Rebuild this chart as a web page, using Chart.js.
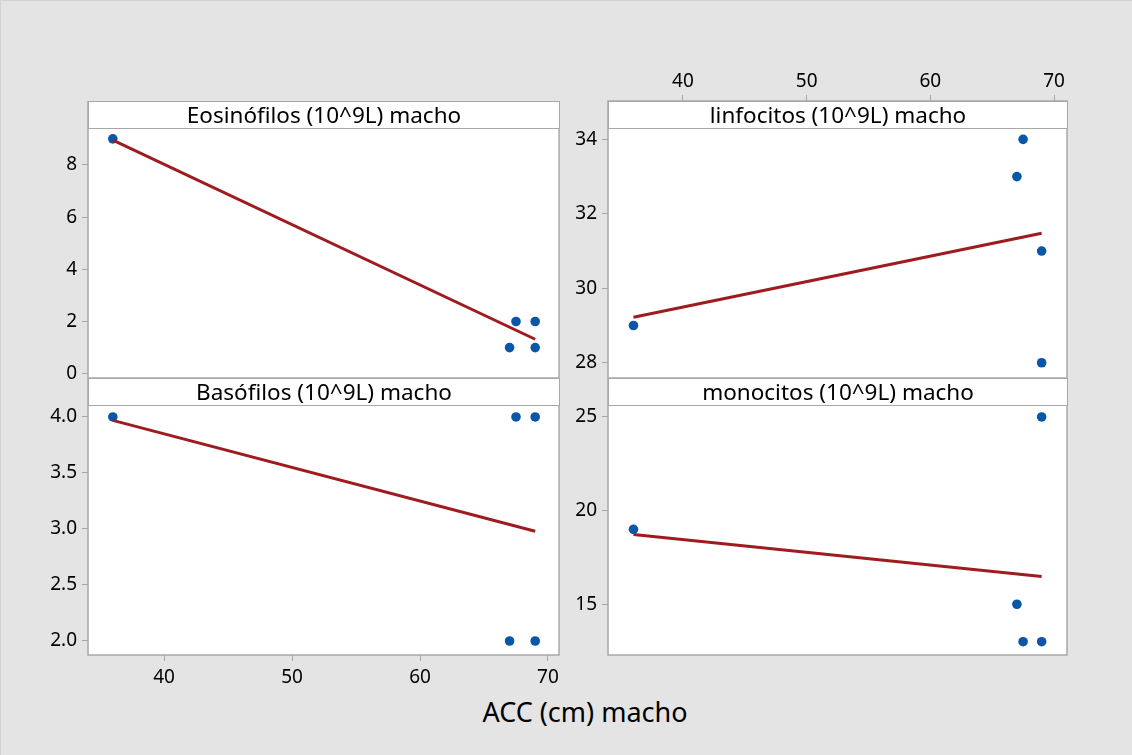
<!DOCTYPE html>
<html>
<head>
<meta charset="utf-8">
<script src="https://cdn.jsdelivr.net/npm/chart.js@4"></script>
<style>
  body { margin: 0; background: #e4e4e4; }
  #fig { position: relative; width: 1132px; height: 755px; background: #e4e4e4;
         border-top: 1px solid #d2d2d2; border-left: 1px solid #d2d2d2; box-sizing: border-box;
         font-family: "Noto Sans", sans-serif; }
  canvas { position: absolute; }
  .strip { position: absolute; background: #fff; border: 1px solid #a8a8a8; box-sizing: border-box;
           text-align: center; font-size: 22.5px; line-height: 25px; color: #000; }
  #xtitle { position: absolute; left: 0; width: 1168px; top: 692px; text-align: center;
            font-size: 27px; color: #000; }
</style>
</head>
<body>
<div id="fig">
  <div id="xtitle">ACC (cm) macho</div>
</div>
<script>
// Données
const accX = [36, 67, 67.5, 69, 69];
const eosinofilos = [9, 1, 2, 2, 1];
const linfocitos = [29, 33, 34, 31, 28];
const basofilos = [4, 2, 4, 4, 2];
const monocitos = [19, 15, 13, 13, 25];

// Droites d'ajustement (extrémités)
const fitX = [36, 69];
const fitEos = [8.95, 1.32];
const fitLinf = [29.22, 31.48];
const fitBaso = [3.97, 2.98];
const fitMono = [18.72, 16.48];

// Graduations
const xTicks = [40, 50, 60, 70];
const eosTicks = [0, 2, 4, 6, 8];
const linfTicks = [28, 30, 32, 34];
const basoTicks = [2.0, 2.5, 3.0, 3.5, 4.0];
const monoTicks = [15, 20, 25];

const AX = 40;     // hauteur réservée à l'axe x
const YW = 70;     // largeur réservée à l'axe y
const STRIP = 27;  // hauteur du bandeau de titre

// Fond blanc + bordure grise de la zone de tracé
const framePlugin = {
    id: 'frame',
    beforeDraw(chart) {
        const a = chart.chartArea, ctx = chart.ctx;
        ctx.save();
        ctx.fillStyle = '#ffffff';
        ctx.fillRect(a.left, a.top, a.right - a.left, a.bottom - a.top);
        ctx.restore();
    },
    afterDraw(chart) {
        const a = chart.chartArea, ctx = chart.ctx;
        ctx.save();
        ctx.strokeStyle = '#a8a8a8';
        ctx.lineWidth = 1.5;
        ctx.strokeRect(a.left, a.top, a.right - a.left, a.bottom - a.top);
        ctx.restore();
    }
};

function makePanel(p) {
    const fig = document.getElementById('fig');
    // la zone de tracé englobe le bandeau (y0 = haut du bandeau)
    const plotW = p.x1 - p.x0, plotH = p.y1 - p.y0;
    const top = p.xPos === 'top' ? p.y0 - AX : p.y0;
    const canvas = document.createElement('canvas');
    canvas.width = plotW + YW + 10;
    canvas.height = plotH + AX;
    canvas.style.left = (p.x0 - YW) + 'px';
    canvas.style.top = top + 'px';
    fig.appendChild(canvas);

    // Bandeau de titre
    const strip = document.createElement('div');
    strip.className = 'strip';
    strip.style.left = p.x0 + 'px';
    strip.style.top = p.y0 + 'px';
    strip.style.width = (plotW + 1) + 'px';
    strip.style.height = (STRIP + 1) + 'px';
    strip.textContent = p.title;
    fig.appendChild(strip);

    const points = accX.map((x, i) => ({ x: x, y: p.values[i] }));
    const fit = fitX.map((x, i) => ({ x: x, y: p.fit[i] }));

    new Chart(canvas, {
        type: 'scatter',
        data: {
            datasets: [{
                type: 'line',
                data: fit,
                borderColor: '#9e1b1f',
                borderWidth: 3,
                pointRadius: 0,
                fill: false
            }, {
                data: points,
                backgroundColor: '#0a56a8',
                borderWidth: 0,
                pointRadius: 4.8
            }]
        },
        options: {
            responsive: false,
            animation: false,
            layout: { autoPadding: false, padding: { left: 0, right: 10, top: 0, bottom: 0 } },
            plugins: { legend: { display: false }, tooltip: { enabled: false } },
            scales: {
                x: {
                    type: 'linear',
                    position: p.xPos,
                    min: p.xMin, max: p.xMax,
                    afterBuildTicks: s => { s.ticks = xTicks.map(v => ({ value: v })); },
                    afterFit: s => { s.height = AX; s.paddingLeft = 0; s.paddingRight = 0; },
                    grid: { drawOnChartArea: false, drawTicks: p.showX, tickLength: 6, color: '#a8a8a8' },
                    border: { display: false },
                    ticks: { display: p.showX, color: '#000', font: { family: 'Noto Sans', size: 19 },
                             padding: p.xPos === 'top' ? 2 : 5, maxRotation: 0 }
                },
                y: {
                    type: 'linear',
                    min: p.yMin, max: p.yMax,
                    afterBuildTicks: s => { s.ticks = p.ticks.map(v => ({ value: v })); },
                    afterFit: s => { s.width = YW; s.paddingTop = 0; s.paddingBottom = 0; },
                    grid: { drawOnChartArea: false, tickLength: 6, color: '#a8a8a8' },
                    border: { display: false },
                    ticks: {
                        color: '#000', font: { family: 'Noto Sans', size: 19 }, padding: 5,
                        callback: v => p.decimals ? v.toFixed(1) : String(v)
                    }
                }
            }
        },
        plugins: [framePlugin]
    });
}

document.addEventListener('DOMContentLoaded', function() {
    makePanel({ title: 'Eosinófilos (10^9L) macho', values: eosinofilos, fit: fitEos, ticks: eosTicks,
        x0: 87, x1: 558, y0: 100, y1: 377, xMin: 34.06, xMax: 70.86, yMin: -0.165, yMax: 10.45,
        xPos: 'bottom', showX: false, decimals: false });
    makePanel({ title: 'linfocitos (10^9L) macho', values: linfocitos, fit: fitLinf, ticks: linfTicks,
        x0: 607, x1: 1066, y0: 100, y1: 377, xMin: 33.94, xMax: 71.05, yMin: 27.59, yMax: 35.03,
        xPos: 'top', showX: true, decimals: false });
    makePanel({ title: 'Basófilos (10^9L) macho', values: basofilos, fit: fitBaso, ticks: basoTicks,
        x0: 87, x1: 558, y0: 377, y1: 654, xMin: 34.06, xMax: 70.86, yMin: 1.875, yMax: 4.348,
        xPos: 'bottom', showX: true, decimals: true });
    makePanel({ title: 'monocitos (10^9L) macho', values: monocitos, fit: fitMono, ticks: monoTicks,
        x0: 607, x1: 1066, y0: 377, y1: 654, xMin: 33.94, xMax: 71.05, yMin: 12.29, yMax: 27.08,
        xPos: 'bottom', showX: false, decimals: false });
});
</script>
</body>
</html>
